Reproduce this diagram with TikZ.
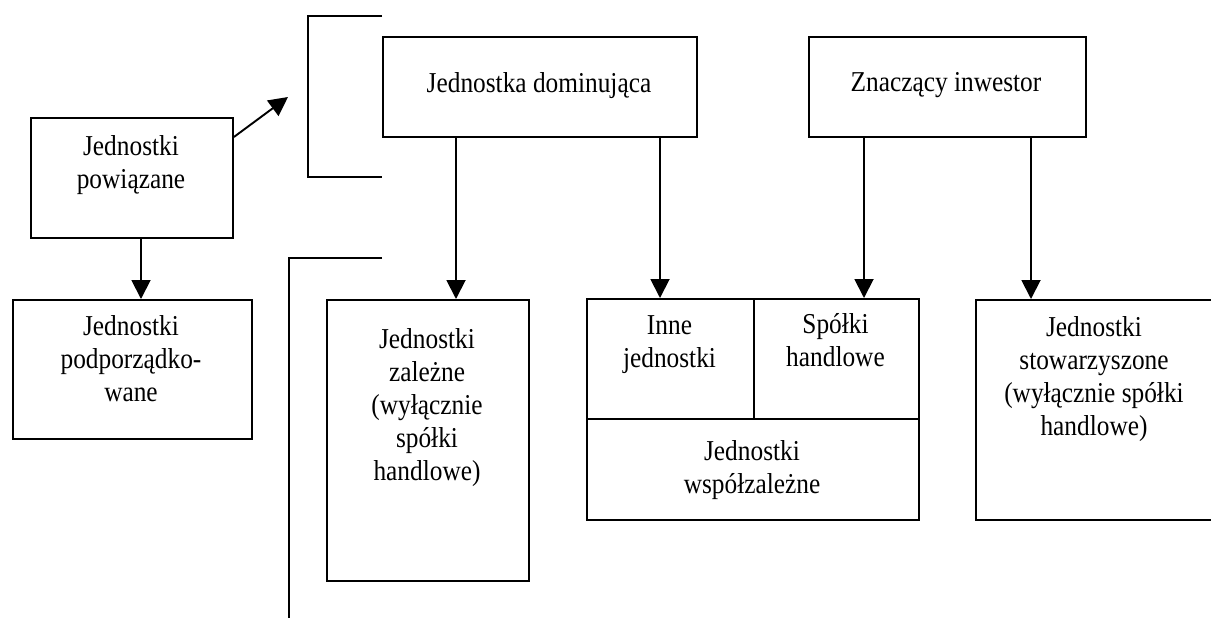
\documentclass[tikz,border=0pt]{standalone}
\usepackage{fontspec}
\setmainfont{Liberation Serif}[FakeStretch=0.88]
\usetikzlibrary{arrows.meta,positioning}

\begin{document}
\begin{tikzpicture}[x=.5pt,y=-.5pt,
  box/.style={draw,line width=.95pt,inner sep=0pt,anchor=north west},
  txt/.style={align=center,inner sep=0pt,anchor=north,font=\fontsize{14.4}{16.5}\selectfont},
  arr/.style={line width=.95pt,-{Triangle[length=9.5pt,width=9.5pt]}}]
\useasboundingbox (0,0) rectangle (1211,617);
% open frames on the left
\draw[line width=.95pt] (382,16) -- (308,16) -- (308,177) -- (382,177);
\draw[line width=.95pt] (382,258) -- (289,258) -- (289,620);
% boxes
\node[box,minimum width=101pt,minimum height=60pt] (pow) at (30,117) {};
\node[box,minimum width=119.5pt,minimum height=69.5pt] (pod) at (12,299) {};
\node[box,minimum width=157pt,minimum height=50pt] (dom) at (382,36) {};
\node[box,minimum width=138.5pt,minimum height=50pt] (zna) at (808,36) {};
\node[box,minimum width=101pt,minimum height=140.5pt] (zal) at (326,299) {};
\node[box,minimum width=83.5pt,minimum height=60pt] (inn) at (586,298) {};
\node[box,minimum width=82.5pt,minimum height=60pt] (spo) at (753,298) {};
\node[box,minimum width=166pt,minimum height=50.5pt] (wsp) at (586,418) {};
\node[box,minimum width=120pt,minimum height=110pt] (sto) at (975,299) {};
% texts
\node[txt] (t-pow) at (131,135) {Jednostki\\powiązane};
\node[txt] (t-pod) at (131,315) {Jednostki\\podporządko-\\wane};
\node[txt] (t-dom) at (539,72) {Jednostka dominująca};
\node[txt] (t-zna) at (946,72) {Znaczący inwestor};
\node[txt] (t-zal) at (427,328) {Jednostki\\zależne\\(wyłącznie\\spółki\\handlowe)};
\node[txt] (t-inn) at (669.5,315) {Inne\\jednostki};
\node[txt] (t-spo) at (835.5,313) {Spółki\\handlowe};
\node[txt] (t-wsp) at (752,440) {Jednostki\\współzależne};
\node[txt] (t-sto) at (1094,316) {Jednostki\\stowarzyszone\\(wyłącznie spółki\\handlowe)};
% arrows
\coordinate (c0) at (141,0);
\coordinate (c1) at (456,0);
\coordinate (c2) at (660,0);
\coordinate (c3) at (864,0);
\coordinate (c4) at (1031,0);
\coordinate (tip) at (288,97);
\draw[arr] (pow.south -| c0) -- (pod.north -| c0);
\draw[arr] ([yshift=-10pt]pow.north east) -- (tip);
\draw[arr] (dom.south -| c1) -- (zal.north -| c1);
\draw[arr] (dom.south -| c2) -- (inn.north -| c2);
\draw[arr] (zna.south -| c3) -- (spo.north -| c3);
\draw[arr] (zna.south -| c4) -- (sto.north -| c4);
\end{tikzpicture}
\end{document}
